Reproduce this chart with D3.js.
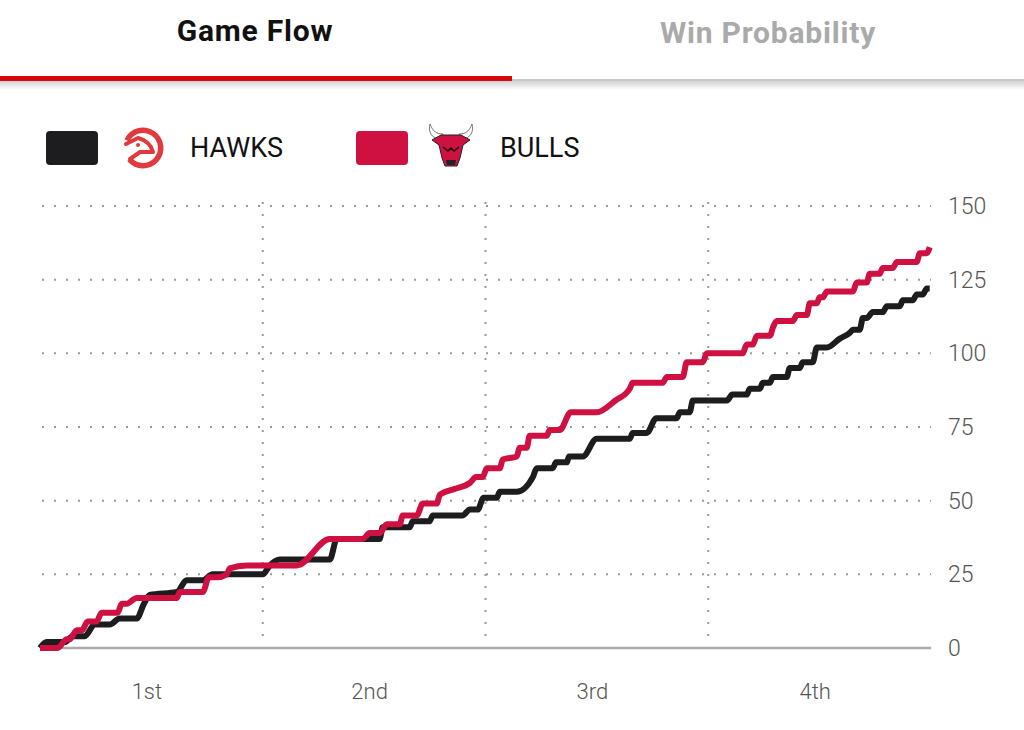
<!DOCTYPE html>
<html>
<head>
<meta charset="utf-8">
<script src="https://cdn.jsdelivr.net/npm/d3@7"></script>
<style>
  body { margin: 0; background: #fff; }
  svg { display: block; font-family: Roboto, "Noto Sans", sans-serif; }
</style>
</head>
<body>
<svg id="chart" width="1024" height="730"></svg>
<script>
// Score data: game minute and running score
const hawksMin = [0, 0.36, 1.33, 1.76, 2.41, 2.95, 3.76, 4.29, 5.21, 5.6, 5.91, 7.37, 7.9, 8.77, 9.3, 12.0, 12.38, 12.91, 15.61, 15.99, 18.3, 18.46, 19.92, 20.08, 20.99, 21.16, 22.78, 23.15, 23.58, 23.9, 24.61, 24.77, 25.68, 26.55, 26.76, 27.62, 27.8, 28.38, 28.5, 29.24, 29.99, 31.77, 31.93, 32.69, 33.2, 34.3, 34.47, 35.0, 35.17, 37.0, 37.3, 38.07, 38.24, 38.78, 38.94, 39.32, 39.48, 40.23, 40.39, 40.93, 41.09, 41.63, 41.85, 42.39, 43.09, 43.63, 43.79, 44.16, 44.33, 44.54, 44.87, 45.4, 45.62, 46.32, 46.48, 47.02, 47.23, 47.56, 47.77, 47.93];
const hawksPts = [0, 2, 2, 4, 4, 8, 8, 10, 10, 15, 18, 19, 23, 23, 25, 25, 28, 30, 30, 37, 37, 41, 41, 43, 43, 45, 45, 47, 47, 51, 51, 53, 53, 58, 61, 61, 63, 63, 65, 65, 71, 71, 73, 73, 78, 78, 80, 80, 84, 84, 86, 86, 88, 88, 90, 90, 92, 92, 95, 95, 97, 97, 102, 102, 105, 107, 108, 108, 112, 112, 114, 114, 116, 116, 118, 118, 120, 120, 122, 122];

const bullsMin = [0, 0.95, 1.44, 1.6, 1.98, 2.25, 2.57, 3.05, 3.32, 4.19, 4.4, 4.67, 5.21, 7.37, 7.53, 8.77, 9.1, 9.52, 10.06, 10.22, 11.14, 13.83, 15.61, 17.39, 17.76, 18.3, 18.68, 19.38, 19.54, 20.3, 20.62, 21.37, 21.54, 22.34, 23.15, 23.5, 23.85, 24.07, 24.77, 24.93, 25.68, 25.85, 26.22, 26.38, 27.3, 27.46, 28.0, 28.6, 29.99, 31.0, 31.77, 31.93, 33.55, 33.77, 34.63, 34.84, 35.71, 35.92, 37.86, 38.07, 38.4, 38.62, 39.32, 39.5, 39.69, 40.56, 40.77, 41.31, 41.47, 41.85, 42.0, 42.17, 42.39, 43.79, 44.0, 44.54, 44.7, 45.24, 45.4, 45.94, 46.16, 47.23, 47.4, 47.77, 47.93];
const bullsPts = [0, 0, 3, 3, 6, 6, 9, 9, 12, 12, 15, 15, 17, 17, 19, 19, 24, 24, 25, 27, 28, 28, 37, 37, 39, 39, 42, 42, 45, 45, 49, 49, 52, 54, 56, 58, 58, 61, 61, 64, 65, 68, 68, 72, 72, 74, 74, 80, 80, 84, 88, 90, 90, 92, 92, 97, 97, 100, 100, 103, 103, 106, 106, 109, 111, 111, 113, 113, 117, 117, 119, 119, 121, 121, 124, 124, 127, 127, 129, 129, 131, 131, 134, 134, 136];

const yTicks = [0, 25, 50, 75, 100, 125, 150];
const quarterEnds = [12, 24, 36];
const quarterMids = [6, 18, 30, 42];
const quarterLabels = ["1st", "2nd", "3rd", "4th"];
const tabs = ["Game Flow", "Win Probability"];
const teams = ["HAWKS", "BULLS"];
const teamColors = ["#1d1d1f", "#ce1141"];

const svg = d3.select("#chart");

// Tab bar on top
const defs = svg.append("defs");
const shadow = defs.append("linearGradient")
  .attr("id", "shadow").attr("x1", 0).attr("x2", 0).attr("y1", 0).attr("y2", 1);
shadow.append("stop").attr("offset", 0).attr("stop-color", "#000").attr("stop-opacity", 0.18);
shadow.append("stop").attr("offset", 1).attr("stop-color", "#000").attr("stop-opacity", 0);

svg.append("rect").attr("x", 0).attr("y", 81).attr("width", 1024).attr("height", 9)
  .attr("fill", "url(#shadow)");
svg.append("rect").attr("x", 0).attr("y", 79).attr("width", 1024).attr("height", 2)
  .attr("fill", "#c8c8c8");
svg.append("rect").attr("x", 0).attr("y", 76).attr("width", 512).attr("height", 5)
  .attr("fill", "#d50a0a");

svg.selectAll(".tab")
  .data(tabs)
  .join("text")
  .attr("class", "tab")
  .attr("x", (d, i) => 255 + i * 513)
  .attr("y", (d, i) => 41 + i * 2)
  .attr("text-anchor", "middle")
  .attr("font-size", 30)
  .attr("letter-spacing", 0.8)
  .attr("font-weight", 700)
  .attr("fill", (d, i) => (i === 0 ? "#111" : "#aaa"))
  .text((d) => d);

// Legend
const legend = svg.selectAll(".legend")
  .data(teams)
  .join("g")
  .attr("class", "legend")
  .attr("transform", (d, i) => `translate(${46 + i * 310}, 131)`);

legend.append("rect")
  .attr("width", 52).attr("height", 34).attr("rx", 4)
  .attr("fill", (d, i) => teamColors[i]);

legend.append("text")
  .attr("x", 144)
  .attr("y", 26)
  .attr("font-size", 27)
  .attr("fill", "#111")
  .text((d) => d);

// Hawks logo (simplified)
const hawk = svg.append("g").attr("transform", "translate(143, 148)");
hawk.append("path")
  .attr("d", d3.arc().innerRadius(15).outerRadius(20.5).startAngle(-0.36 * Math.PI).endAngle(1.28 * Math.PI))
  .attr("fill", "#e03a3e");
hawk.append("path")
  .attr("d", "M-17,-4 L-5,-10 Q7,-7 10,4 L-3,4 L-13,11")
  .attr("fill", "none").attr("stroke", "#e03a3e").attr("stroke-width", 4)
  .attr("stroke-linejoin", "round").attr("stroke-linecap", "round");
hawk.append("circle").attr("cx", -5).attr("cy", -3).attr("r", 2).attr("fill", "#e03a3e");

// Bulls logo (simplified)
const bull = svg.append("g").attr("transform", "translate(451, 149)");
bull.append("path")
  .attr("d", "M-10,-10 C-20,-10 -23,-18 -21,-25 C-18,-17 -14,-15 -8,-15 Z")
  .attr("fill", "#fff").attr("stroke", "#777").attr("stroke-width", 1);
bull.append("path")
  .attr("d", "M10,-10 C20,-10 23,-18 21,-25 C18,-17 14,-15 8,-15 Z")
  .attr("fill", "#fff").attr("stroke", "#777").attr("stroke-width", 1);
bull.append("path")
  .attr("d", "M-19,-9 L-10,-14 L10,-14 L19,-9 L12,-4 L9,9 L6,17 L-6,17 L-9,9 L-12,-4 Z")
  .attr("fill", "#ce1141").attr("stroke", "#222").attr("stroke-width", 1);
bull.append("path")
  .attr("d", "M-8,-2 L-3,2 L0,-1 L3,2 L8,-2")
  .attr("fill", "none").attr("stroke", "#111").attr("stroke-width", 1.5);
bull.append("path")
  .attr("d", "M-5,11 L5,11 L4,16 L-4,16 Z")
  .attr("fill", "#222");

// Chart area
const x = d3.scaleLinear().domain([0, 48]).range([40, 931]);
const y = d3.scaleLinear().domain([0, 150]).range([648, 206]);

// Horizontal dotted gridlines
svg.append("g")
  .selectAll("line")
  .data(yTicks.filter((d) => d > 0))
  .join("line")
  .attr("x1", x(0) + 2).attr("x2", x(48))
  .attr("y1", (d) => y(d)).attr("y2", (d) => y(d))
  .attr("stroke", "#999")
  .attr("stroke-width", 2)
  .attr("stroke-dasharray", "2,10");

// Vertical quarter lines
svg.append("g")
  .selectAll("line")
  .data(quarterEnds)
  .join("line")
  .attr("x1", (d) => x(d)).attr("x2", (d) => x(d))
  .attr("y1", y(150) - 4).attr("y2", y(0) - 4)
  .attr("stroke", "#999")
  .attr("stroke-width", 2)
  .attr("stroke-dasharray", "2,10");

// Baseline
svg.append("line")
  .attr("x1", x(0)).attr("x2", x(48))
  .attr("y1", y(0)).attr("y2", y(0))
  .attr("stroke", "#aaa").attr("stroke-width", 2.5);

// Right y axis
const yAxis = svg.append("g")
  .attr("transform", `translate(940, 0)`)
  .call(d3.axisRight(y).tickValues(yTicks).tickSize(0).tickPadding(8));
yAxis.select(".domain").remove();
yAxis.selectAll("text")
  .attr("font-size", 23)
  .attr("font-family", "Roboto, sans-serif")
  .attr("font-weight", 300)
  .attr("fill", "#555");

// Quarter labels
const xAxis = svg.append("g")
  .attr("transform", `translate(-5, ${y(0)})`)
  .call(d3.axisBottom(x).tickValues(quarterMids).tickSize(0).tickPadding(35)
    .tickFormat((d, i) => quarterLabels[i]));
xAxis.select(".domain").remove();
xAxis.selectAll("text")
  .attr("font-size", 22)
  .attr("font-family", "Roboto, sans-serif")
  .attr("font-weight", 300)
  .attr("fill", "#555");

// Score lines
const line = d3.line()
  .x((d) => x(d[0]))
  .y((d) => y(d[1]))
  .curve(d3.curveMonotoneX);

const series = [
  d3.zip(hawksMin, hawksPts),
  d3.zip(bullsMin, bullsPts)
];

svg.append("g")
  .selectAll("path")
  .data(series)
  .join("path")
  .attr("d", line)
  .attr("fill", "none")
  .attr("stroke", (d, i) => teamColors[i])
  .attr("stroke-width", 6)
  .attr("stroke-linejoin", "round");
</script>
</body>
</html>
